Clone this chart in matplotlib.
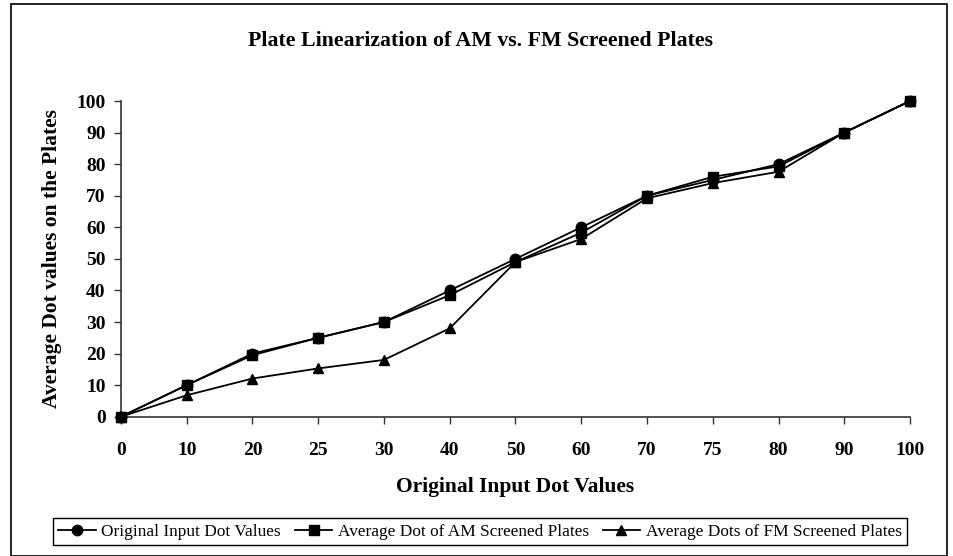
import numpy as np
import matplotlib.pyplot as plt
from matplotlib.patches import Rectangle

plt.rcParams['font.family'] = ['Liberation Serif', 'DejaVu Serif']

# data
input_dots = ["0", "10", "20", "25", "30", "40", "50", "60", "70", "75", "80", "90", "100"]
original_vals = [0, 10, 20, 25, 30, 40, 50, 60, 70, 75, 80, 90, 100]
am_vals = [0, 10, 19.5, 25, 30, 38.5, 49, 58.3, 70, 76, 79.3, 90, 100]
fm_vals = [0, 6.8, 12.1, 15.3, 18, 28, 49, 56.3, 69.2, 74, 77.6, 90, 100]

x = np.arange(len(input_dots))

fig = plt.figure(figsize=(9.54, 5.56), dpi=100)
ax = fig.add_axes([0.1268, 0.2505, 0.8271, 0.5678])

ax.plot(x, original_vals, color='black', lw=1.3, marker='o', ms=7.5, clip_on=False,
        label="Original Input Dot Values")
ax.plot(x, am_vals, color='black', lw=1.3, marker='s', ms=7.5, clip_on=False,
        label="Average Dot of AM Screened Plates")
ax.plot(x, fm_vals, color='black', lw=1.3, marker='^', ms=7.5, clip_on=False,
        label="Average Dots of FM Screened Plates")

ax.set_xlim(0, len(x) - 1)
ax.set_ylim(0, 100)
ax.set_xticks(x)
ax.set_xticklabels(input_dots)
ax.set_yticks(np.arange(0, 101, 10))

for s in ['top', 'right']:
    ax.spines[s].set_visible(False)
for s in ['left', 'bottom']:
    ax.spines[s].set_color('#333333')
    ax.spines[s].set_linewidth(1.2)
    ax.spines[s].set_zorder(1)

ax.tick_params(axis='both', direction='out', length=5, width=1, color='#333333',
               labelsize=14)
ax.tick_params(axis='x', pad=13)
ax.tick_params(axis='y', pad=6)
for lbl in ax.get_xticklabels() + ax.get_yticklabels():
    lbl.set_fontweight('bold')

ax.set_xlabel("Original Input Dot Values", fontsize=15.5, fontweight='bold', va='center')
ax.xaxis.set_label_coords(0.5, -0.222)
ax.set_ylabel("Average Dot values on the Plates", fontsize=15.5, fontweight='bold', va='center')
ax.yaxis.set_label_coords(-0.087, 0.5)

fig.suptitle("Plate Linearization of AM vs. FM Screened Plates", x=0.5037, y=0.926,
             va='center', fontsize=15.7, fontweight='bold')

leg = fig.legend(loc='center', bbox_to_anchor=(0.503, 0.044), ncol=3, fontsize=12.4,
                 frameon=True, fancybox=False, edgecolor='black', framealpha=1,
                 handlelength=2.2, handletextpad=0.3, columnspacing=0.8,
                 borderpad=0.3, borderaxespad=0)
leg.get_frame().set_linewidth(1.0)

fig.patches.append(Rectangle((11.5 / 954, 0.5 / 556), 935.5 / 954, 552 / 556,
                             transform=fig.transFigure, fill=False,
                             edgecolor='black', linewidth=1.2))

fig.savefig("out.png", dpi=100)
